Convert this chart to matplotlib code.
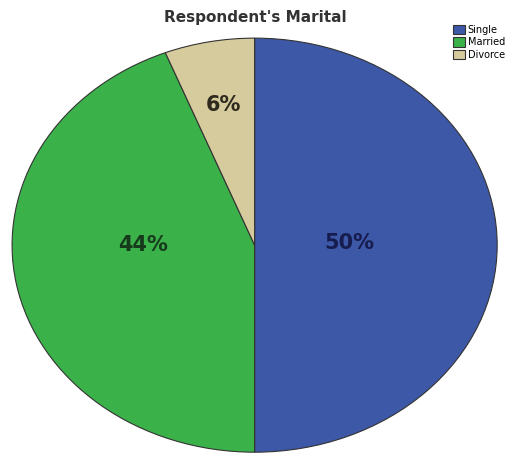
import numpy as np
import matplotlib.pyplot as plt

labels = ["Single", "Married", "Divorce"]
shares = [50, 44, 6]
colors = ["#3E58A8", "#3BB14A", "#D6CB9C"]

fig = plt.figure(figsize=(5.25, 4.54), dpi=100)
ax = fig.add_axes([0.023, 0.004, 0.924, 0.912])

wedges, texts, autotexts = ax.pie(
    shares, colors=colors, startangle=90, counterclock=False,
    autopct="%d%%", radius=1,
    wedgeprops=dict(edgecolor="#333333", linewidth=0.8),
    textprops=dict(fontsize=15, fontweight="semibold"),
)
ax.set_aspect("auto")
ax.set_xlim(-1.0, 1.0)
ax.set_ylim(-1.0, 1.0)

# move each percentage label along its wedge's bisector, nudged up a bit
dist = [0.39, 0.47, 0.69]
lift = [0.01, 0.09, 0.0]
label_colors = ["#161c4e", "#173a1c", "#2e2a1e"]
for w, t, d, up, c in zip(wedges, autotexts, dist, lift, label_colors):
    mid = np.deg2rad((w.theta1 + w.theta2) / 2)
    t.set_position((d * np.cos(mid), d * np.sin(mid) + up))
    t.set_color(c)

fig.text(0.486, 0.962, "Respondent's Marital", ha="center", va="center",
         fontsize=11, fontweight="bold", color="#333333")

fig.legend(wedges, labels, loc="upper right", bbox_to_anchor=(0.975, 0.96),
           fontsize=7, frameon=False, handlelength=1.2, handleheight=1.1,
           labelspacing=0.25, borderpad=0.2, handletextpad=0.3)

fig.savefig("out.png", dpi=100)
